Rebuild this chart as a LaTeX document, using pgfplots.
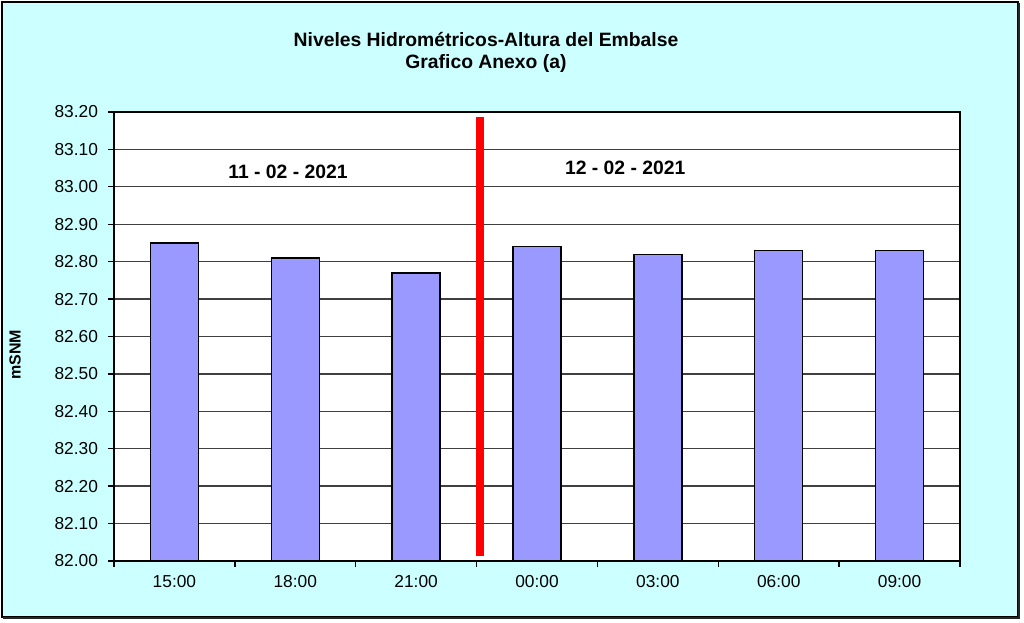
\documentclass[border=0pt]{standalone}
\usepackage{fontspec}
\setmainfont{Liberation Sans}
\usepackage{pgfplots}
\pgfplotsset{compat=1.18}
\definecolor{bgc}{HTML}{CCFFFF}
\definecolor{barc}{HTML}{9999FF}
\begin{document}
\begin{tikzpicture}
\path (0pt,0pt) rectangle (768pt,467.25pt);
\fill[bgc] (1.5pt,4.5pt) rectangle (763.5pt,465.75pt);
\draw[black,line width=1.5pt] (1.5pt,4.5pt) rectangle (763.5pt,465.75pt);
\draw[black!85,line width=1.5pt] (2.5pt,3.5pt) -- (764.5pt,3.5pt) -- (764.5pt,464.75pt);
\node[font=\fontsize{14.5}{16.5}\selectfont\bfseries,align=center] at (364.5pt,428pt) {Niveles Hidrom\'etricos-Altura del Embalse\\Grafico Anexo (a)};
\node[font=\fontsize{12}{14}\selectfont\bfseries,rotate=90] at (11.25pt,201pt) {mSNM};
\begin{axis}[
  at={(85.5pt,46.5pt)}, anchor=south west,
  scale only axis, width=634.5pt, height=336.75pt,
  xmin=-0.5, xmax=6.5, ymin=82, ymax=83.2,
  axis background/.style={fill=white},
  axis line style={line width=1.5pt},
  xtick={-0.5,0.5,...,6.5},
  x tick label as interval,
  xticklabels={15:00,18:00,21:00,00:00,03:00,06:00,09:00},
  ytick={82,82.1,...,83.25},
  yticklabel={\pgfmathprintnumber[fixed,fixed zerofill,precision=2]{\tick}},
  xtick pos=bottom, ytick pos=left,
  tick align=outside,
  major tick length=4.5pt,
  tick style={black,line width=1pt},
  ymajorgrids,
  major grid style={black!75,line width=1pt},
  tick label style={font=\fontsize{13}{15}\selectfont},
  /pgf/number format/assume math mode=true,
  xticklabel style={yshift=-3pt},
  yticklabel style={xshift=-4pt},
]
\addplot[ybar, bar width=36pt, bar shift=0pt, fill=barc, draw=black, line width=1pt] coordinates {
(0,82.85) (1,82.81) (2,82.77) (3,82.84) (4,82.82) (5,82.83) (6,82.83)};
\addplot[red, line width=6pt, line cap=butt] coordinates {(2.53,82.013) (2.53,83.187)};
\node[font=\fontsize{14.5}{16}\selectfont\bfseries] at (axis cs:0.94,83.04) {11 - 02 - 2021};
\node[font=\fontsize{14.5}{16}\selectfont\bfseries] at (axis cs:3.73,83.05) {12 - 02 - 2021};
\end{axis}
\end{tikzpicture}
\end{document}
